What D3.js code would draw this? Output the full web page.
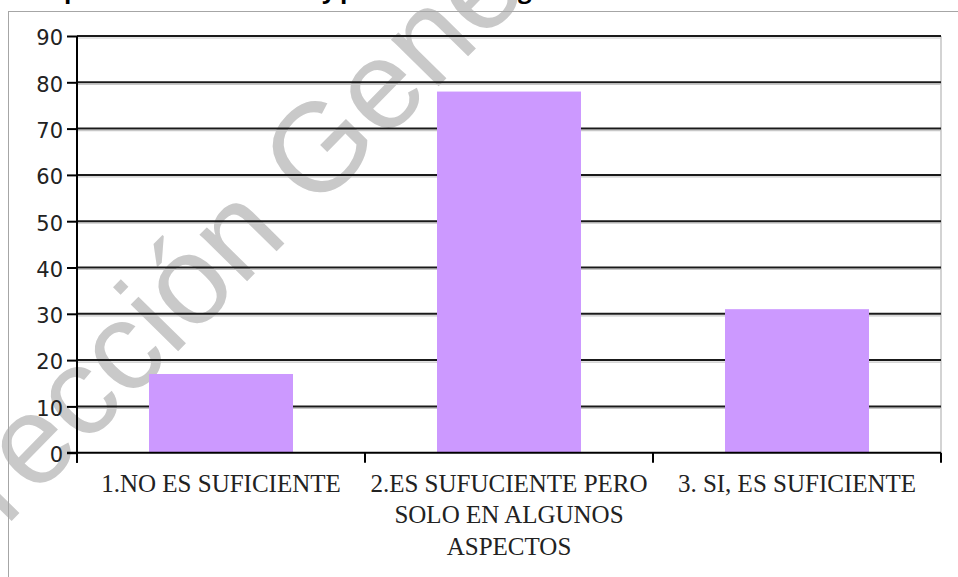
<!DOCTYPE html>
<html>
<head>
<meta charset="utf-8">
<script src="https://cdn.jsdelivr.net/npm/d3@7"></script>
<style>
  html, body { margin: 0; padding: 0; background: #fff; }
  svg { display: block; }
</style>
</head>
<body>
<svg id="chart"></svg>
<script>
const categories = [
    "1.NO ES SUFICIENTE",
    "2.ES SUFUCIENTE PERO SOLO EN ALGUNOS ASPECTOS",
    "3. SI, ES SUFICIENTE"
];
const values = [17, 78, 31];
const yTicks = [0, 10, 20, 30, 40, 50, 60, 70, 80, 90];
// only the bottoms of the title letters are left in the picture
const titleBits = [
    { text: "p", x: 64 },
    { text: "y", x: 322 },
    { text: "p", x: 340 },
    { text: "g", x: 518 }
];
const watermark = "Dirección General";

const width = 958;
const height = 577;
const margin = { top: 36, right: 17, bottom: 124.3, left: 77 };

const svg = d3.select("#chart")
    .attr("width", width)
    .attr("height", height);

// watermark sits under the chart
svg.append("text")
    .attr("transform", "translate(-78,612) rotate(-45.5)")
    .attr("font-family", "Liberation Sans, Arial, sans-serif")
    .attr("font-size", 126)
    .attr("fill", "#c9c9c9")
    .text(watermark);

svg.append("g")
    .selectAll("text")
    .data(titleBits)
    .join("text")
    .attr("x", d => d.x)
    .attr("y", -2)
    .attr("font-family", "Open Sans, sans-serif")
    .attr("font-weight", "bold")
    .attr("font-size", 24)
    .attr("fill", "#000")
    .text(d => d.text);

// outer chart frame
svg.append("rect")
    .attr("x", 8.5)
    .attr("y", 11.5)
    .attr("width", width)
    .attr("height", height)
    .attr("fill", "none")
    .attr("stroke", "#a6a6a6")
    .attr("stroke-width", 1);

const x = d3.scaleBand()
    .domain(categories)
    .range([margin.left, width - margin.right])
    .paddingInner(0.5)
    .paddingOuter(0.25);

const y = d3.scaleLinear()
    .domain([0, 90])
    .range([height - margin.bottom, margin.top]);

const x0 = margin.left;
const x1 = width - margin.right;

// plot area right border
svg.append("line")
    .attr("x1", x1).attr("x2", x1)
    .attr("y1", y(90)).attr("y2", y(0))
    .attr("stroke", "#c4c4c4")
    .attr("stroke-width", 1.5);

// gridlines with their light shadow
const grid = svg.append("g");
grid.selectAll("line.shadow")
    .data(yTicks.filter(d => d > 0))
    .join("line")
    .attr("class", "shadow")
    .attr("x1", x0).attr("x2", x1)
    .attr("y1", d => y(d) + 2).attr("y2", d => y(d) + 2)
    .attr("stroke", "#c8c8c8")
    .attr("stroke-width", 1.2);
grid.selectAll("line.major")
    .data(yTicks.filter(d => d > 0))
    .join("line")
    .attr("class", "major")
    .attr("x1", x0).attr("x2", x1)
    .attr("y1", d => y(d)).attr("y2", d => y(d))
    .attr("stroke", "#1a1a1a")
    .attr("stroke-width", 2);

svg.append("g")
    .selectAll("rect")
    .data(values)
    .join("rect")
    .attr("x", (d, i) => x(categories[i]))
    .attr("y", d => y(d))
    .attr("width", x.bandwidth())
    .attr("height", d => y(0) - y(d))
    .attr("fill", "#cc99ff");

// y axis
const yAxis = svg.append("g")
    .attr("transform", `translate(${x0},0)`)
    .call(d3.axisLeft(y).tickValues(yTicks).tickSize(10).tickPadding(4));
yAxis.select(".domain")
    .attr("d", `M0,${y(90)}V${y(0) + 10}`)
    .attr("stroke", "#000")
    .attr("stroke-width", 2);
yAxis.selectAll(".tick line")
    .attr("stroke", "#000")
    .attr("stroke-width", 2);
yAxis.selectAll(".tick text")
    .attr("font-family", "DejaVu Sans, sans-serif")
    .attr("font-size", 21)
    .attr("fill", "#222")
    .attr("dy", "0.42em");

// x axis line and category boundary ticks
const bounds = d3.range(categories.length + 1).map(i => x0 + i * x.step());
svg.append("line")
    .attr("x1", x0 - 10).attr("x2", x1)
    .attr("y1", y(0)).attr("y2", y(0))
    .attr("stroke", "#000")
    .attr("stroke-width", 2);
svg.append("g")
    .selectAll("line")
    .data(bounds)
    .join("line")
    .attr("x1", d => d).attr("x2", d => d)
    .attr("y1", y(0)).attr("y2", y(0) + 10)
    .attr("stroke", "#000")
    .attr("stroke-width", 2);

// category labels, wrapped to the band width
const labels = svg.append("g")
    .selectAll("text")
    .data(categories)
    .join("text")
    .attr("x", d => x(d) + x.bandwidth() / 2)
    .attr("y", y(0) + 39)
    .attr("text-anchor", "middle")
    .attr("font-family", "Liberation Serif, Times New Roman, serif")
    .attr("font-size", 25)
    .attr("fill", "#222");

labels.each(function (d) {
    const text = d3.select(this);
    const cx = text.attr("x");
    const words = d.split(/\s+/);
    let line = [];
    let tspan = text.text(null).append("tspan").attr("x", cx);
    words.forEach(w => {
        line.push(w);
        tspan.text(line.join(" "));
        if (tspan.node().getComputedTextLength() > x.step() - 6 && line.length > 1) {
            line.pop();
            tspan.text(line.join(" "));
            line = [w];
            tspan = text.append("tspan")
                .attr("x", cx)
                .attr("dy", 31.5)
                .text(w);
        }
    });
});
</script>
</body>
</html>
